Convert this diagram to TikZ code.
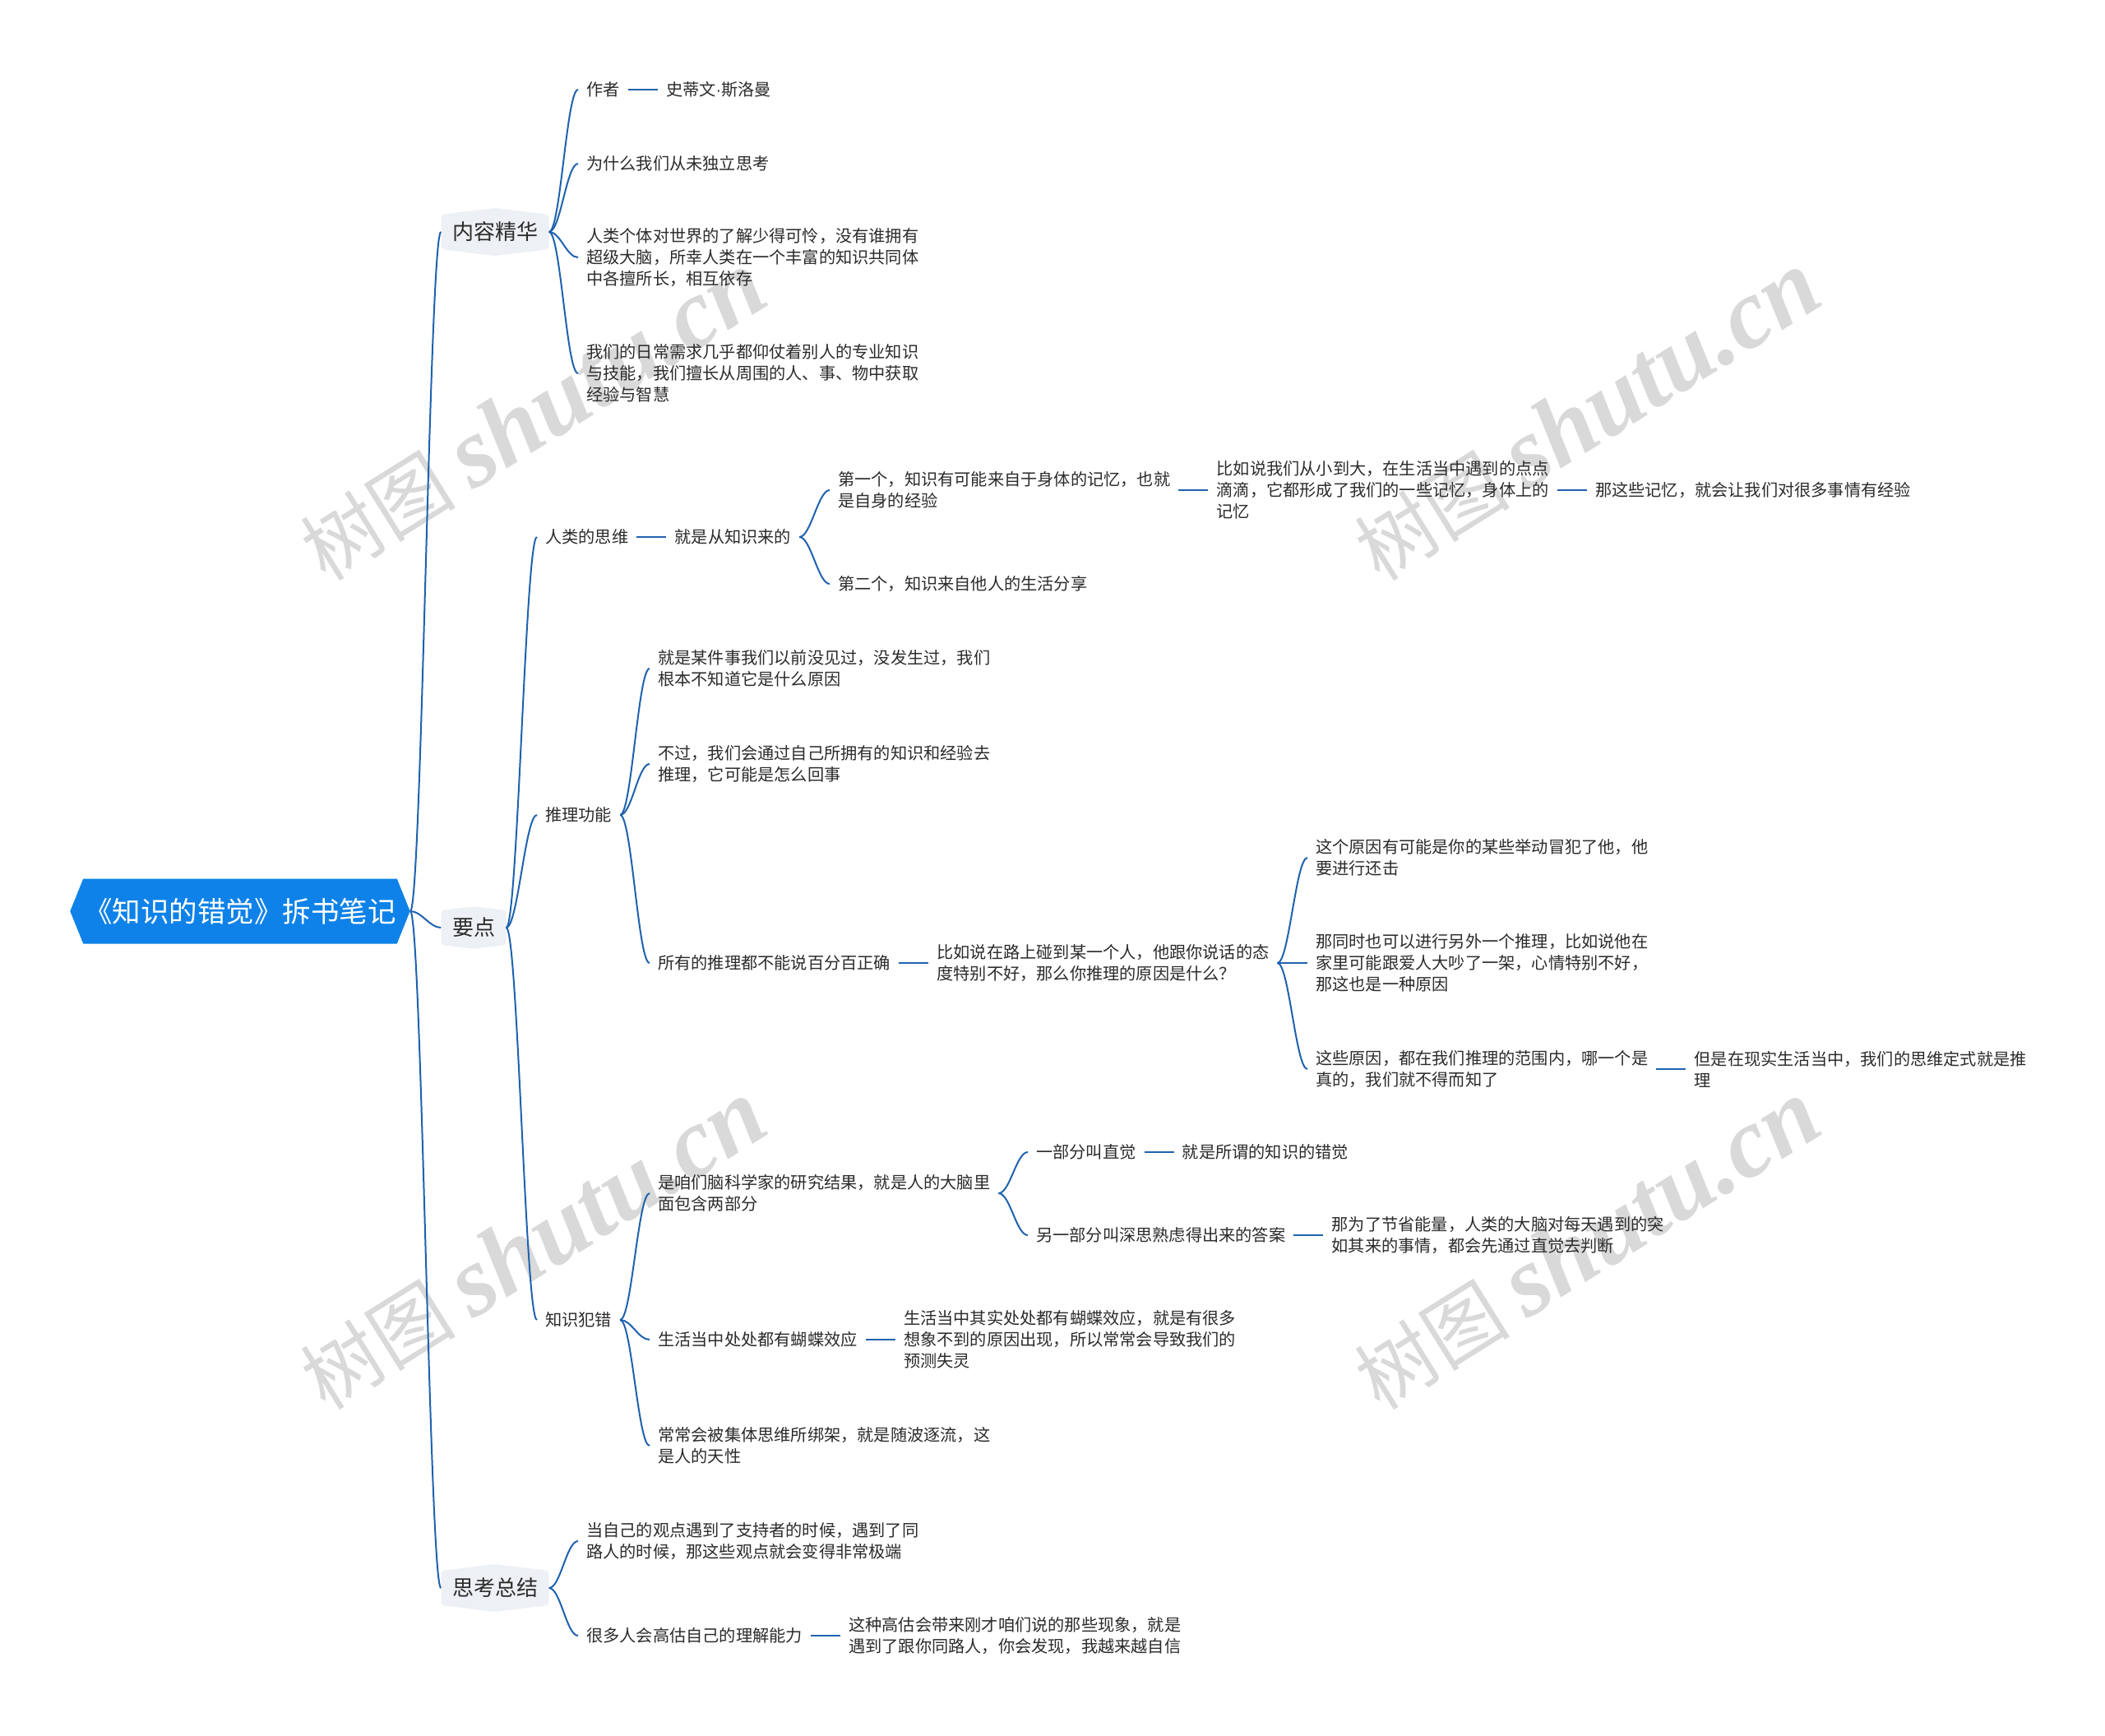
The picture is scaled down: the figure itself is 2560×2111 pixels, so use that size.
\documentclass[tikz,border=0pt]{standalone}
\usepackage{fontspec}
\setmainfont{Noto Sans CJK SC}
\newfontfamily\wmlatin{Liberation Serif}
\newfontfamily\dotfont{Liberation Sans}
\usetikzlibrary{positioning,shapes.symbols}
\definecolor{rootblue}{HTML}{0E82E8}
\definecolor{wire}{HTML}{1F62AE}
\definecolor{pale}{HTML}{EDF0F4}
\definecolor{ink}{HTML}{2B2B2B}
\definecolor{wmgray}{HTML}{D9D9D9}

\tikzset{
  root/.style={signal, signal to=west and east, signal pointer angle=136,
    fill=rootblue, text=white, font=\fontsize{34.5}{40}\selectfont,
    inner xsep=1pt, minimum height=79pt},
  topic/.style={signal, signal to=north and south, signal pointer angle=166,
    fill=pale, rounded corners=4pt, text=ink, font=\fontsize{26}{32}\selectfont,
    inner xsep=13.5pt, inner ysep=9pt},
  leaf/.style={anchor=west, align=left, text=ink,
    font=\fontsize{20.2}{26}\selectfont, inner xsep=10pt, inner ysep=3pt},
  link/.style={draw=wire, line width=2pt},
  wmark/.style={rotate=32, text=wmgray, font=\fontsize{95}{100}\selectfont},
}

\begin{document}
\begin{tikzpicture}[x=1pt, y=-1pt]
\useasboundingbox (0,0) rectangle (2560,2111);
\fill[white] (0,0) rectangle (2560,2111);

% watermark
\foreach \p [count=\i] in {(648,506),(1930,506),(648,1514),(1930,1514)}
  \node[wmark] (wm\i) at \p {树图 {\wmlatin\bfseries\itshape\fontsize{120}{120}\selectfont shutu.cn}};

% root and main topics
\node[root] (root) at (292,1108) {《知识的错觉》拆书笔记};
\node[topic] (nr) at (602,282) {内容精华};
\node[topic] (yd) at (576,1128) {要点};
\node[topic] (zj) at (602,1931) {思考总结};

% 内容精华
\node[leaf] (nr1) at (703,109) {作者};
\node[leaf, right=36pt of nr1] (nr1a) {史蒂文{\dotfont ·}斯洛曼};
\node[leaf] (nr2) at (703,199) {为什么我们从未独立思考};
\node[leaf] (nr3) at (703,313) {人类个体对世界的了解少得可怜，没有谁拥有\\超级大脑，所幸人类在一个丰富的知识共同体\\中各擅所长，相互依存};
\node[leaf] (nr4) at (703,454) {我们的日常需求几乎都仰仗着别人的专业知识\\与技能，我们擅长从周围的人、事、物中获取\\经验与智慧};

% 要点: 人类的思维
\node[leaf] (sw) at (653,653) {人类的思维};
\node[leaf, right=36pt of sw] (sw1) {就是从知识来的};
\node[leaf] (sw11) at (1009,596) {第一个，知识有可能来自于身体的记忆，也就\\是自身的经验};
\node[leaf, right=36pt of sw11] (sw11a) {比如说我们从小到大，在生活当中遇到的点点\\滴滴，它都形成了我们的一些记忆，身体上的\\记忆};
\node[leaf, right=36pt of sw11a] (sw11b) {那这些记忆，就会让我们对很多事情有经验};
\node[leaf] (sw12) at (1009,710) {第二个，知识来自他人的生活分享};

% 要点: 推理功能
\node[leaf] (tl) at (653,991) {推理功能};
\node[leaf] (tl1) at (790,813) {就是某件事我们以前没见过，没发生过，我们\\根本不知道它是什么原因};
\node[leaf] (tl2) at (790,929) {不过，我们会通过自己所拥有的知识和经验去\\推理，它可能是怎么回事};
\node[leaf] (tl3) at (790,1171) {所有的推理都不能说百分百正确};
\node[leaf, right=36pt of tl3] (tl3a) {比如说在路上碰到某一个人，他跟你说话的态\\度特别不好，那么你推理的原因是什么？};
\node[leaf] (tl31) at (1590,1043) {这个原因有可能是你的某些举动冒犯了他，他\\要进行还击};
\node[leaf] (tl32) at (1590,1171) {那同时也可以进行另外一个推理，比如说他在\\家里可能跟爱人大吵了一架，心情特别不好，\\那这也是一种原因};
\node[leaf] (tl33) at (1590,1300) {这些原因，都在我们推理的范围内，哪一个是\\真的，我们就不得而知了};
\node[leaf, right=36pt of tl33] (tl33a) {但是在现实生活当中，我们的思维定式就是推\\理};

% 要点: 知识犯错
\node[leaf] (fc) at (653,1605) {知识犯错};
\node[leaf] (fc1) at (790,1451) {是咱们脑科学家的研究结果，就是人的大脑里\\面包含两部分};
\node[leaf] (fc11) at (1250,1401) {一部分叫直觉};
\node[leaf, right=36pt of fc11] (fc11a) {就是所谓的知识的错觉};
\node[leaf] (fc12) at (1250,1502) {另一部分叫深思熟虑得出来的答案};
\node[leaf, right=36pt of fc12] (fc12a) {那为了节省能量，人类的大脑对每天遇到的突\\如其来的事情，都会先通过直觉去判断};
\node[leaf] (fc2) at (790,1629) {生活当中处处都有蝴蝶效应};
\node[leaf, right=36pt of fc2] (fc2a) {生活当中其实处处都有蝴蝶效应，就是有很多\\想象不到的原因出现，所以常常会导致我们的\\预测失灵};
\node[leaf] (fc3) at (790,1758) {常常会被集体思维所绑架，就是随波逐流，这\\是人的天性};

% 思考总结
\node[leaf] (zj1) at (703,1874) {当自己的观点遇到了支持者的时候，遇到了同\\路人的时候，那这些观点就会变得非常极端};
\node[leaf] (zj2) at (703,1989) {很多人会高估自己的理解能力};
\node[leaf, right=36pt of zj2] (zj2a) {这种高估会带来刚才咱们说的那些现象，就是\\遇到了跟你同路人，你会发现，我越来越自信};

% curved branches
\foreach \p/\c in {root/nr, root/yd, root/zj,
    nr/nr1, nr/nr2, nr/nr3, nr/nr4,
    yd/sw, yd/tl, yd/fc,
    sw1/sw11, sw1/sw12,
    tl/tl1, tl/tl2, tl/tl3,
    tl3a/tl31, tl3a/tl32, tl3a/tl33,
    fc/fc1, fc/fc2, fc/fc3,
    fc1/fc11, fc1/fc12,
    zj/zj1, zj/zj2}
  \draw[link] (\p.east) .. controls +(14,0) and +(-14,0) .. (\c.west);

% straight links
\foreach \a/\b in {nr1/nr1a, sw/sw1, sw11/sw11a, sw11a/sw11b, tl3/tl3a,
    tl33/tl33a, fc11/fc11a, fc12/fc12a, fc2/fc2a, zj2/zj2a}
  \draw[link] (\a) -- (\b);
\end{tikzpicture}
\end{document}
